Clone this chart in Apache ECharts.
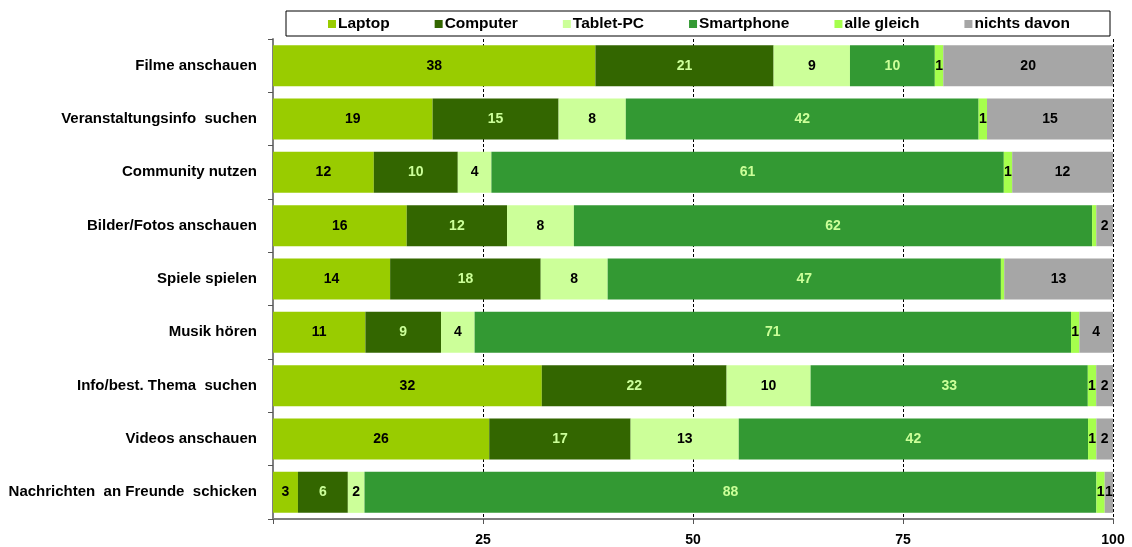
<!DOCTYPE html>
<html>
<head>
<meta charset="utf-8">
<script src="https://cdn.jsdelivr.net/npm/echarts@6/dist/echarts.min.js"></script>
<style>
  html, body { margin: 0; padding: 0; background: #fff; }
  #chart { width: 1132px; height: 547px; }
</style>
</head>
<body>
<div id="chart"></div>
<script>
// Activities, top to bottom
const categories = [
  'Filme anschauen',
  'Veranstaltungsinfo  suchen',
  'Community nutzen',
  'Bilder/Fotos anschauen',
  'Spiele spielen',
  'Musik hören',
  'Info/best. Thema  suchen',
  'Videos anschauen',
  'Nachrichten  an Freunde  schicken'
];

// Shares per device (percent), one value per activity
const laptop     = [38, 19, 12, 16, 14, 11, 32, 26, 3];
const computer   = [21, 15, 10, 12, 18, 9, 22, 17, 6];
const tabletPC   = [9, 8, 4, 8, 8, 4, 10, 13, 2];
const smartphone = [10, 42, 61, 62, 47, 71, 33, 42, 88];
const alleGleich = [1, 1, 1, 0.5, 0.4, 1, 1, 1, 1];
const nichtsDavon = [20, 15, 12, 2, 13, 4, 2, 2, 1];

const seriesNames = ['Laptop', 'Computer', 'Tablet-PC', 'Smartphone', 'alle gleich', 'nichts davon'];
const seriesValues = [laptop, computer, tabletPC, smartphone, alleGleich, nichtsDavon];
const xTicks = [25, 50, 75, 100];

const colors = ['#99CC00', '#336600', '#CCFF99', '#339933', '#A6FF4D', '#A6A6A6'];
const labelColors = ['#000', '#CCFF99', '#000', '#CCFF99', '#000', '#000'];

// Each row is drawn as a 100 % stack of its answers
const rowTotals = categories.map((_, i) => seriesValues.reduce((s, arr) => s + arr[i], 0));

const series = seriesNames.map((name, si) => ({
  name: name,
  type: 'bar',
  stack: 'total',
  barCategoryGap: '23%',
  itemStyle: { color: colors[si] },
  label: {
    show: true,
    position: 'inside',
    color: labelColors[si],
    fontFamily: 'Liberation Sans, Arial, sans-serif',
    fontWeight: 'bold',
    fontSize: 14,
    formatter: p => seriesValues[si][p.dataIndex] >= 1 ? String(seriesValues[si][p.dataIndex]) : ''
  },
  labelLayout: { hideOverlap: false },
  emphasis: { disabled: true },
  data: seriesValues[si].map((v, i) => v / rowTotals[i] * 100)
}));

const chart = echarts.init(document.getElementById('chart'), null, { renderer: 'canvas' });
chart.setOption({
  animation: false,
  backgroundColor: '#fff',
  color: colors,
  legend: {
    top: 11,
    left: 286,
    orient: 'horizontal',
    data: seriesNames,
    icon: 'rect',
    itemWidth: 8,
    itemHeight: 8,
    itemGap: 45,
    borderColor: '#000',
    borderWidth: 1,
    borderRadius: 0,
    padding: [5, 40, 4, 42],
    textStyle: {
      fontFamily: 'Liberation Sans, Arial, sans-serif',
      fontWeight: 'bold',
      fontSize: 15.5,
      color: '#000',
      padding: [0, 0, 0, -3]
    }
  },
  grid: { left: 273, right: 19, top: 39, bottom: 26, containLabel: false },
  xAxis: {
    type: 'value',
    min: 0,
    max: 100,
    interval: 25,
    axisLine: { show: true, lineStyle: { color: '#7F7F7F', width: 2 } },
    axisTick: { show: true, length: 5, lineStyle: { color: '#555', width: 1 } },
    axisLabel: {
      color: '#000',
      fontFamily: 'Liberation Sans, Arial, sans-serif',
      fontWeight: 'bold',
      fontSize: 14,
      margin: 14,
      formatter: v => xTicks.includes(v) ? String(v) : ''
    },
    splitLine: { show: true, lineStyle: { color: '#000', type: [3, 2], width: 1 } }
  },
  yAxis: {
    type: 'category',
    inverse: true,
    data: categories,
    axisLine: { show: true, lineStyle: { color: '#7F7F7F', width: 2 } },
    axisTick: { show: true, length: 5, lineStyle: { color: '#555', width: 1 } },
    axisLabel: {
      color: '#000',
      fontFamily: 'Liberation Sans, Arial, sans-serif',
      fontWeight: 'bold',
      fontSize: 15,
      margin: 16
    },
    splitLine: { show: false }
  },
  series: series
});
</script>
</body>
</html>
